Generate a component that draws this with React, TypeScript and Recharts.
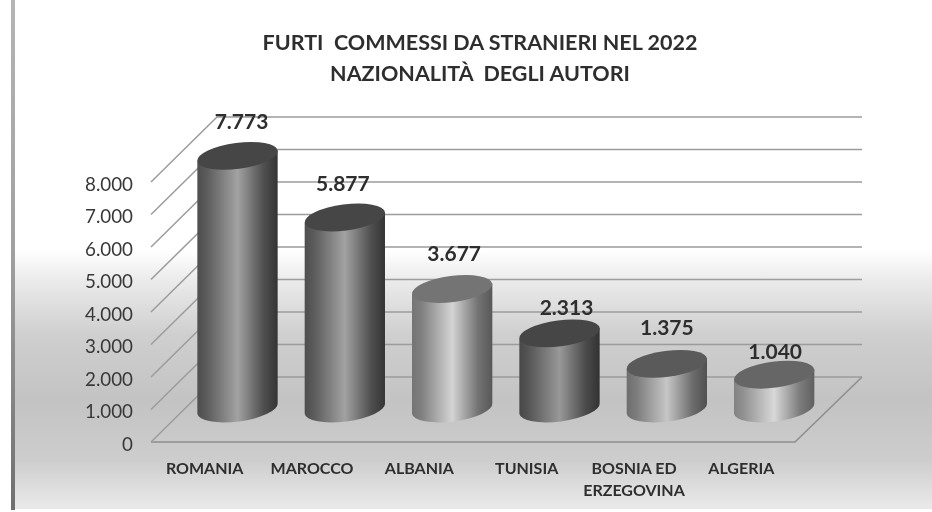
import { BarChart, Bar, XAxis, YAxis, CartesianGrid, LabelList } from 'recharts';

const categories = ['ROMANIA', 'MAROCCO', 'ALBANIA', 'TUNISIA', 'BOSNIA ED ERZEGOVINA', 'ALGERIA'];
const furti = [7773, 5877, 3677, 2313, 1375, 1040];
const yTicks = [0, 1000, 2000, 3000, 4000, 5000, 6000, 7000, 8000];
const titleLines = ['FURTI  COMMESSI DA STRANIERI NEL 2022', 'NAZIONALITÀ  DEGLI AUTORI'];

const chartData = categories.map((name, i) => ({ name, furti: furti[i] }));

// left, left shoulder, mid, right shoulder, right, top of each cylinder
const tones = [
  ['#4e4e4e', '#5c5c5c', '#a2a2a2', '#505050', '#343434', '#464646'],
  ['#4e4e4e', '#5c5c5c', '#a2a2a2', '#505050', '#343434', '#464646'],
  ['#747474', '#808080', '#d4d4d4', '#737373', '#585858', '#747474'],
  ['#484848', '#565656', '#989898', '#4c4c4c', '#323232', '#464646'],
  ['#6e6e6e', '#7c7c7c', '#c6c6c6', '#6c6c6c', '#505050', '#5a5a5a'],
  ['#828282', '#929292', '#d8d8d8', '#7c7c7c', '#606060', '#666666'],
];
// hand placement of the value labels relative to each cylinder top
const labelLift = [36, 35.5, 37, 27.5, 38, 25.7];
const labelShift = [3, -3, 1, 6, -1, 0];

const FONT = 'Lato, sans-serif';
const LEFT = 151;
const RIGHT = 795;
const TOP = 182;
const BOTTOM = 442;
const DEPTH_X = 66;
const DEPTH_Y = 65;
const GRID = '#9c9c9c';

function formatValue(v: number) {
  return String(v).replace(/\B(?=(\d{3})+$)/g, '.');
}

function wrapLabel(label: string) {
  return label.length > 12 ? ['BOSNIA ED', 'ERZEGOVINA'] : [label];
}

const Cylinder = ({ x, y, width, height, index }: any) => {
  const rx = width / 2;
  const ry = 13;
  const tilt = 7.5;
  const cx = x + rx + DEPTH_X / 2;
  const topY = y - DEPTH_Y / 2 - 1;
  const baseY = y + height - DEPTH_Y / 2 - 1;
  const dx = rx * Math.cos((tilt * Math.PI) / 180);
  const dy = rx * Math.sin((tilt * Math.PI) / 180);
  const side = `M${cx - dx},${topY + dy} L${cx - dx},${baseY + dy} A${rx},${ry} ${-tilt} 0 0 ${cx + dx},${baseY - dy} L${cx + dx},${topY - dy} Z`;
  return (
    <g>
      <path d={side} fill={`url(#cyl${index})`} />
      <ellipse
        cx={cx}
        cy={topY}
        rx={rx}
        ry={ry}
        fill={tones[index][5]}
        transform={`rotate(${-tilt} ${cx} ${topY})`}
      />
    </g>
  );
};

const ValueLabel = ({ x, y, width, value, index }: any) => (
  <text
    x={x + width / 2 + DEPTH_X / 2 + 1 + labelShift[index]}
    y={y - DEPTH_Y / 2 - labelLift[index]}
    textAnchor="middle"
    dominantBaseline="central"
    fontFamily={FONT}
    fontWeight={700}
    fontSize={21}
    fill="#2e2e2e"
  >
    {formatValue(value)}
  </text>
);

const GridLine = ({ y1 }: any) => {
  const backY = y1 - DEPTH_Y;
  return (
    <g>
      {Math.abs(y1 - BOTTOM) < 1 && (
        <path
          d={`M${LEFT},${BOTTOM} L${RIGHT},${BOTTOM} L${RIGHT + DEPTH_X + 1},${backY}`}
          fill="none"
          stroke="#8f8f8f"
          strokeWidth={1.6}
        />
      )}
      <polyline
        points={`${LEFT},${y1} ${LEFT + DEPTH_X},${backY} ${RIGHT + DEPTH_X + 1},${backY}`}
        fill="none"
        stroke={GRID}
        strokeWidth={1.5}
      />
    </g>
  );
};

const CategoryTick = ({ x, y, payload }: any) => (
  <text x={x} y={y} textAnchor="middle" fontFamily={FONT} fontWeight={700} fontSize={16} fill="#2e2e2e">
    {wrapLabel(payload.value).map((line, i) => (
      <tspan key={line} x={x} dy={i === 0 ? 0 : 22}>
        {line}
      </tspan>
    ))}
  </text>
);

const ValueTick = ({ y, payload }: any) => (
  <text
    x={133}
    y={y + 1}
    textAnchor="end"
    dominantBaseline="central"
    fontFamily={FONT}
    fontSize={18.8}
    fill="#383838"
  >
    {formatValue(payload.value)}
  </text>
);

export default function App() {
  return (
    <div
      style={{
        position: 'absolute',
        left: 0,
        top: 0,
        width: 932,
        height: 512,
        background: '#fff',
        overflow: 'hidden',
        filter: 'blur(0.4px)',
      }}
    >
      {/* Slide background */}
      <div
        style={{
          position: 'absolute',
          left: 11,
          top: 0,
          width: 4,
          height: 510,
          background: 'linear-gradient(#b5b5b5, #a0a0a0 50%, #6f6f6f)',
        }}
      />
      <div
        style={{
          position: 'absolute',
          left: 15,
          top: 0,
          right: 0,
          height: 509,
          background:
            'linear-gradient(#ffffff 0, #ffffff 250px, #ebebeb 280px, #cfcfcf 335px, #c3c3c3 400px, #cdcdcd 460px, #e8e8e8 505px)',
        }}
      />

      {/* Title */}
      <div
        style={{
          position: 'absolute',
          left: 180,
          width: 600,
          top: 27,
          textAlign: 'center',
          fontFamily: FONT,
          fontWeight: 700,
          fontSize: 21.5,
          lineHeight: '31px',
          color: '#2e2e2e',
          whiteSpace: 'pre',
        }}
      >
        {titleLines.map((line) => (
          <div key={line}>{line}</div>
        ))}
      </div>

      <div style={{ position: 'absolute', left: 0, top: 0 }}>
        <BarChart
          width={932}
          height={512}
          data={chartData}
          margin={{ top: TOP, right: 932 - RIGHT, bottom: 0, left: LEFT - 60 }}
          barSize={81}
        >
          <defs>
            {tones.map((t, i) => (
              <linearGradient key={i} id={`cyl${i}`} x1="0" y1="0" x2="1" y2="0">
                <stop offset="0%" stopColor={t[0]} />
                <stop offset="12%" stopColor={t[1]} />
                <stop offset="50%" stopColor={t[2]} />
                <stop offset="82%" stopColor={t[3]} />
                <stop offset="100%" stopColor={t[4]} />
              </linearGradient>
            ))}
          </defs>
          <CartesianGrid vertical={false} horizontal={(p: any) => <GridLine key={p.key} {...p} />} />
          <XAxis
            dataKey="name"
            axisLine={false}
            tickLine={false}
            interval={0}
            height={512 - BOTTOM}
            tick={<CategoryTick />}
            tickMargin={26}
          />
          <YAxis
            width={60}
            domain={[0, 8000]}
            ticks={yTicks}
            axisLine={false}
            tickLine={false}
            tick={<ValueTick />}
          />
          <Bar dataKey="furti" shape={<Cylinder />} isAnimationActive={false}>
            <LabelList dataKey="furti" content={<ValueLabel />} />
          </Bar>
        </BarChart>
      </div>
    </div>
  );
}
